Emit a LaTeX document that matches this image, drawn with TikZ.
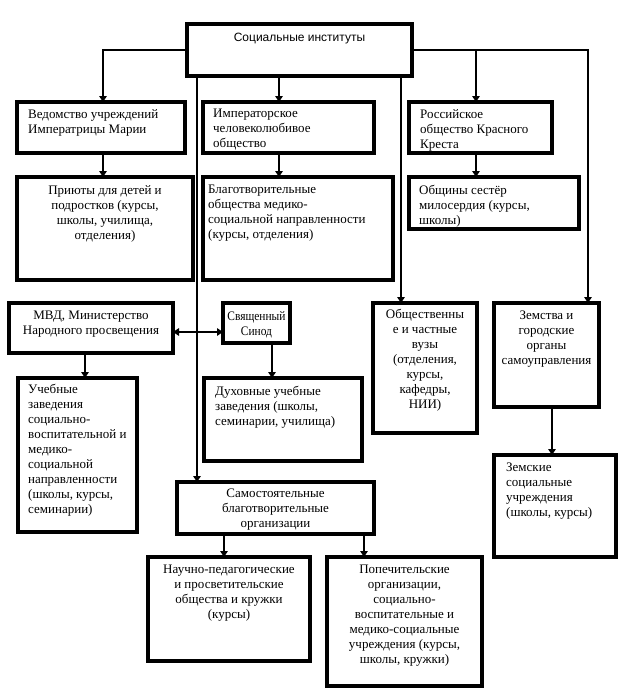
\documentclass[tikz,border=0pt]{standalone}
\usepackage{fontspec}
\setmainfont{Liberation Serif}
\newfontfamily\sansf{Liberation Sans}
\newfontfamily\condf[FakeStretch=0.88]{Liberation Serif}
\usetikzlibrary{arrows.meta,calc}
\newcommand\bx[5]{\node[box, minimum width={#4-#2}, minimum height={#5-#3}] (#1) at (#2,#3) {};}
\begin{document}
\begin{tikzpicture}[x=1pt,y=-1pt,
  box/.style={draw=black, line width=3.6pt, inner sep=0pt, outer sep=0pt, anchor=north west, fill=white},
  txt/.style={inner sep=0pt, font=\fontsize{13}{15}\selectfont, execute at begin node={\rule{0pt}{10pt}}},
  tl/.style={txt, anchor=north west, align=left},
  tc/.style={txt, anchor=north, align=center},
  conn/.style={line width=2.6pt, -{Triangle[width=7.5pt,length=6pt]}},
  thin/.style={line width=1.3pt, -{Triangle[width=7.5pt,length=6pt]}},
  both/.style={line width=2.6pt, {Triangle[width=7.5pt,length=6pt]}-{Triangle[width=7.5pt,length=6pt]}},
]
\useasboundingbox (0,0) rectangle (618,688);
% boxes
\bx{T}{187}{24}{412}{76}
\bx{A}{17}{102}{185}{153}
\bx{B}{203}{102}{374}{153}
\bx{C}{409}{102}{552}{153}
\bx{D}{17}{177}{193}{280}
\bx{E}{203}{177}{393}{280}
\bx{F}{409}{177}{579}{229}
\bx{G}{9}{303}{173}{353}
\bx{H}{223}{303}{290}{343}
\bx{I}{18}{378}{137}{532}
\bx{J}{204}{378}{362}{461}
\bx{L}{373}{303}{477}{433}
\bx{M}{494}{303}{599}{407}
\bx{N}{494}{455}{616}{557}
\bx{K}{177}{482}{374}{534}
\bx{O}{148}{557}{310}{661}
\bx{P}{327}{557}{482}{686}
% texts
\node[tc, font=\sansf\fontsize{12}{14}\selectfont] (tT) at ($(T.north)+(0,7)$) {Социальные институты};
\node[tl] (tA) at ($(A.north west)+(11,7)$) {Ведомство учреждений\\Императрицы Марии};
\node[tl] (tB) at ($(B.north west)+(10,7)$) {Императорское\\человеколюбивое\\общество};
\node[tl] (tC) at ($(C.north west)+(11,7)$) {Российское\\общество Красного\\Креста};
\node[tc] (tD) at ($(D.north)+(0,8)$) {Приюты для детей и\\подростков (курсы,\\школы, училища,\\отделения)};
\node[tl] (tE) at ($(E.north west)+(5,8)$) {Благотворительные\\общества медико-\\социальной направленности\\(курсы, отделения)};
\node[tl] (tF) at ($(F.north west)+(10,8)$) {Общины сестёр\\милосердия (курсы,\\школы)};
\node[tc] (tG) at ($(G.north)+(0,8)$) {МВД, Министерство\\Народного просвещения};
\node[tc, font=\condf\fontsize{13}{15}\selectfont] (tH) at ($(H.north)+(0,8)$) {Священный\\Синод};
\node[tl] (tI) at ($(I.north west)+(10,6)$) {Учебные\\заведения\\социально-\\воспитательной и\\медико-\\социальной\\направленности\\(школы, курсы,\\семинарии)};
\node[tl] (tJ) at ($(J.north west)+(11,8)$) {Духовные учебные\\заведения (школы,\\семинарии, училища)};
\node[tc] (tL) at ($(L.north)+(0,6)$) {Общественны\\е и частные\\вузы\\(отделения,\\курсы,\\кафедры,\\НИИ)};
\node[tc] (tM) at ($(M.north)+(0,8)$) {Земства и\\городские\\органы\\самоуправления};
\node[tl] (tN) at ($(N.north west)+(12,8)$) {Земские\\социальные\\учреждения\\(школы, курсы)};
\node[tc] (tK) at ($(K.north)+(0,7)$) {Самостоятельные\\благотворительные\\организации};
\node[tc] (tO) at ($(O.north)+(0,8)$) {Научно-педагогические\\и просветительские\\общества и кружки\\(курсы)};
\node[tc] (tP) at ($(P.north)+(0,8)$) {Попечительские\\организации,\\социально-\\воспитательные и\\медико-социальные\\учреждения (курсы,\\школы, кружки)};
% column coordinates
\coordinate (cA) at (103,0);
\coordinate (cB) at (279,0);
\coordinate (cC) at (476,0);
\coordinate (cM) at (588,0);
\coordinate (cK) at (197,0);
\coordinate (cL) at (401,0);
\coordinate (cG) at (85,0);
\coordinate (cH) at (272,0);
\coordinate (cN) at (552,0);
\coordinate (cKO) at (224,0);
\coordinate (cKP) at (364,0);
\coordinate (rGH) at (0,332);
% connectors
\draw[conn] (T.west) -| (A.north -| cA);
\draw[conn] (T.east) -| (M.north -| cM);
\draw[conn] (T.east -| cC) -- (C.north -| cC);
\draw[thin] (T.south -| cB) -- (B.north -| cB);
\draw[conn] (T.south -| cK) -- (K.north -| cK);
\draw[conn] (T.south -| cL) -- (L.north -| cL);
\draw[conn] (A.south -| cA) -- (D.north -| cA);
\draw[conn] (B.south -| cB) -- (E.north -| cB);
\draw[conn] (C.south -| cC) -- (F.north -| cC);
\draw[conn] (G.south -| cG) -- (I.north -| cG);
\draw[conn] (H.south -| cH) -- (J.north -| cH);
\draw[conn] (M.south -| cN) -- (N.north -| cN);
\draw[conn] (K.south -| cKO) -- (O.north -| cKO);
\draw[conn] (K.south -| cKP) -- (P.north -| cKP);
\draw[both] (G.east |- rGH) -- (H.west |- rGH);
\end{tikzpicture}
\end{document}
